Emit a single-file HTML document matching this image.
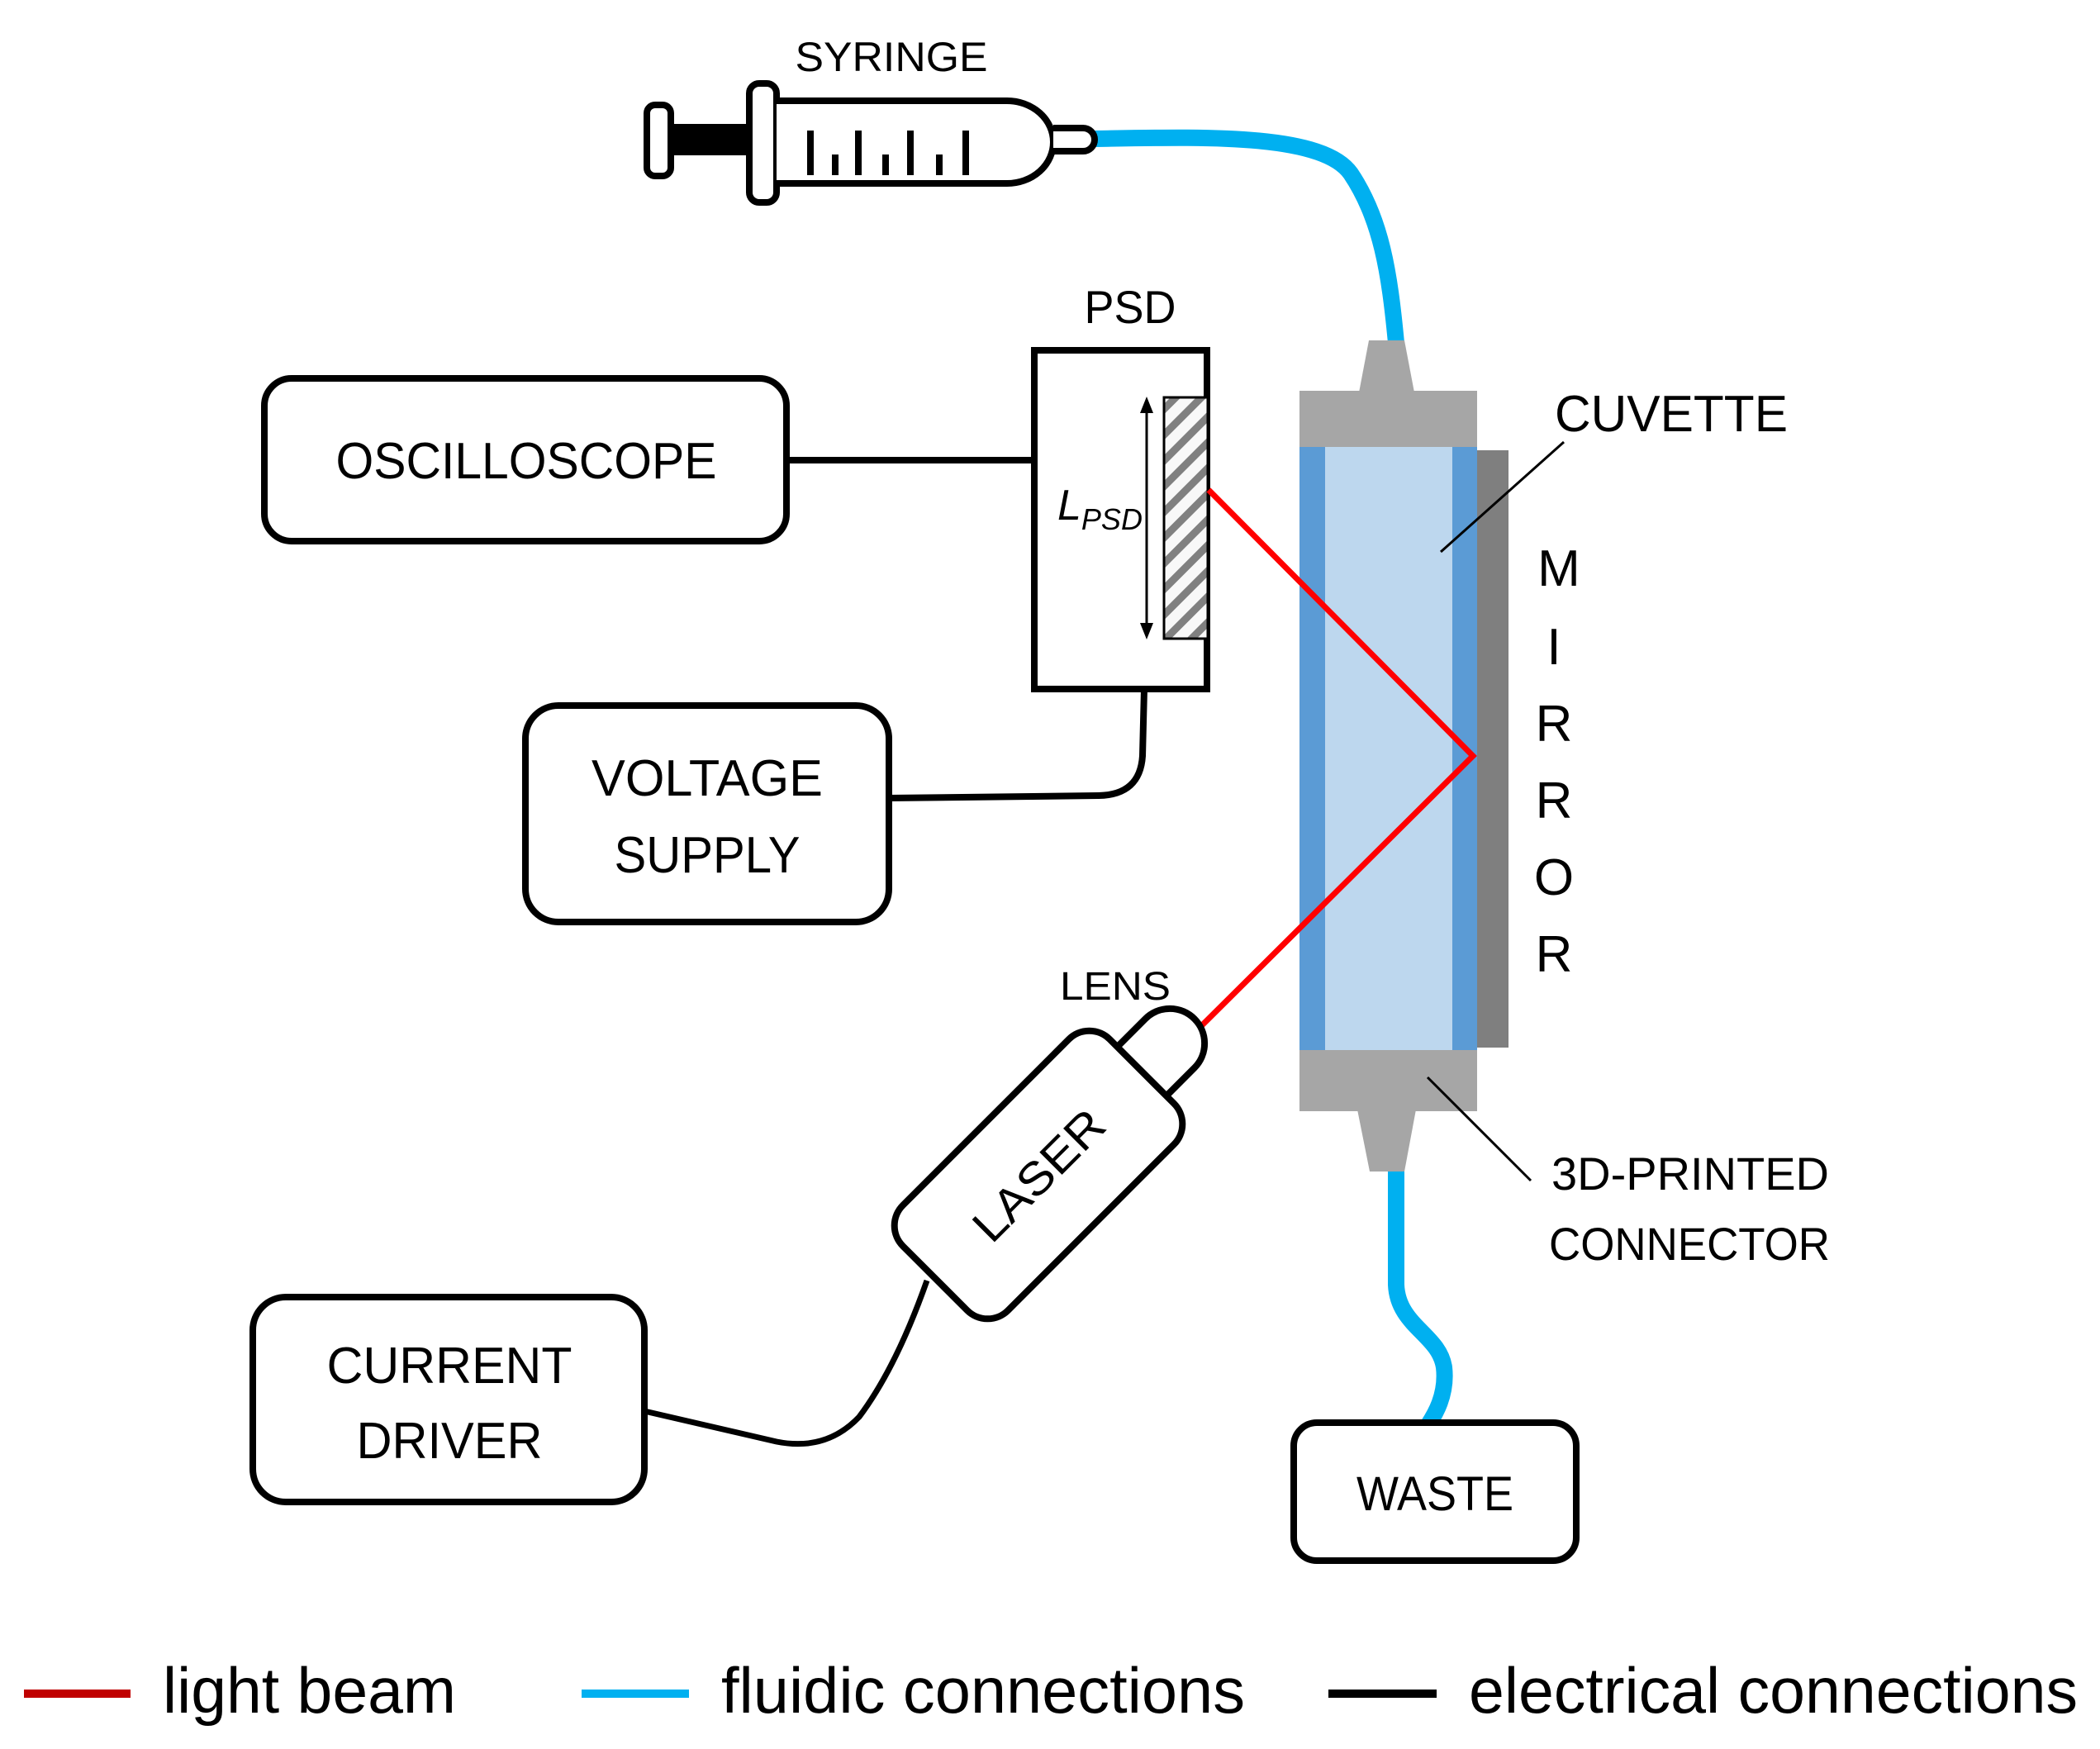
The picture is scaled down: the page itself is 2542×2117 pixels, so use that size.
<!DOCTYPE html>
<html><head><meta charset="utf-8"><style>html,body{margin:0;padding:0;background:#fff}svg{display:block}text{font-family:"Liberation Sans",sans-serif;fill:#000}</style></head>
<body>
<svg width="2542" height="2117" viewBox="0 0 2542 2117" xmlns="http://www.w3.org/2000/svg">
<defs>
<pattern id="hatch" width="22" height="22" patternUnits="userSpaceOnUse" patternTransform="rotate(-45)">
<rect width="22" height="22" fill="#f8f8f8"/><rect width="22" height="9" fill="#808080"/>
</pattern>
</defs>
<rect width="2542" height="2117" fill="#fff"/>

<!-- fluidic tubes -->
<path d="M1320,168 C1450,166 1600,160 1635,210 C1672,265 1682,330 1690,415" fill="none" stroke="#00b0f0" stroke-width="20"/>
<path d="M1690,1415 L1690,1555 C1692,1605 1742,1615 1748,1655 C1752,1690 1735,1715 1728,1726" fill="none" stroke="#00b0f0" stroke-width="20"/>

<!-- syringe -->
<text x="1079" y="86" font-size="50" text-anchor="middle" textLength="233" lengthAdjust="spacingAndGlyphs">SYRINGE</text>
<rect x="812" y="150" width="95" height="38" fill="#000"/>
<rect x="783" y="127" width="29" height="86" rx="10" fill="#fff" stroke="#000" stroke-width="8"/>
<rect x="907" y="101" width="33" height="144" rx="12" fill="#fff" stroke="#000" stroke-width="8"/>
<path d="M940,122 H1219 A56,50 0 0 1 1219,222 H940" fill="#fff" stroke="#000" stroke-width="8"/>
<path d="M1275,155 H1311 A14,14 0 0 1 1311,183 H1275" fill="#fff" stroke="#000" stroke-width="8"/>
<g stroke="#000" stroke-width="8">
<line x1="981" y1="158" x2="981" y2="212"/><line x1="1011" y1="187" x2="1011" y2="212"/>
<line x1="1039" y1="158" x2="1039" y2="212"/><line x1="1072" y1="187" x2="1072" y2="212"/>
<line x1="1102" y1="158" x2="1102" y2="212"/><line x1="1137" y1="187" x2="1137" y2="212"/>
<line x1="1169" y1="158" x2="1169" y2="212"/>
</g>

<!-- cuvette -->
<polygon points="1645,475 1657,412 1700,412 1712,475" fill="#a6a6a6"/>
<rect x="1573" y="473" width="215" height="68" fill="#a6a6a6"/>
<rect x="1573" y="541" width="215" height="730" fill="#5b9bd5"/>
<rect x="1604" y="541" width="154" height="730" fill="#bdd7ee"/>
<rect x="1788" y="545" width="38" height="723" fill="#7f7f7f"/>
<rect x="1573" y="1271" width="215" height="74" fill="#a6a6a6"/>
<polygon points="1643,1343 1714,1343 1700,1418 1658,1418" fill="#a6a6a6"/>

<!-- PSD -->
<text x="1368" y="391" font-size="56" text-anchor="middle" textLength="111" lengthAdjust="spacingAndGlyphs">PSD</text>
<rect x="1252" y="424" width="209" height="410" fill="#fff" stroke="#000" stroke-width="8"/>
<rect x="1409" y="481" width="53" height="292" fill="url(#hatch)" stroke="#000" stroke-width="3"/>
<line x1="1388" y1="495" x2="1388" y2="760" stroke="#000" stroke-width="3"/>
<polygon points="1388,480 1380,500 1396,500"/><polygon points="1388,774 1380,754 1396,754"/>
<text x="1280" y="629" font-size="52" font-style="italic">L<tspan font-size="36" dy="12">PSD</tspan></text>

<!-- beam -->
<polyline points="1463,593 1783,915 1454,1242" fill="none" stroke="#ff0000" stroke-width="7"/>

<!-- oscilloscope -->
<rect x="320" y="458" width="632" height="197" rx="33" fill="#fff" stroke="#000" stroke-width="8"/>
<text x="637" y="579" font-size="62" text-anchor="middle" textLength="461" lengthAdjust="spacingAndGlyphs">OSCILLOSCOPE</text>
<line x1="952" y1="557" x2="1252" y2="557" stroke="#000" stroke-width="8"/>

<!-- voltage supply -->
<rect x="636" y="854" width="440" height="262" rx="40" fill="#fff" stroke="#000" stroke-width="8"/>
<text x="856" y="963" font-size="62" text-anchor="middle" textLength="280" lengthAdjust="spacingAndGlyphs">VOLTAGE</text>
<text x="856" y="1056" font-size="62" text-anchor="middle" textLength="225" lengthAdjust="spacingAndGlyphs">SUPPLY</text>
<path d="M1385,834 L1383,915 Q1380,962 1330,963 L1076,966" fill="none" stroke="#000" stroke-width="8"/>

<!-- current driver -->
<rect x="306" y="1570" width="474" height="248" rx="40" fill="#fff" stroke="#000" stroke-width="8"/>
<text x="544" y="1674" font-size="62" text-anchor="middle" textLength="297" lengthAdjust="spacingAndGlyphs">CURRENT</text>
<text x="544" y="1765" font-size="62" text-anchor="middle" textLength="225" lengthAdjust="spacingAndGlyphs">DRIVER</text>
<path d="M780,1708 L940,1745 Q1000,1757 1040,1715 Q1085,1655 1122,1550" fill="none" stroke="#000" stroke-width="7"/>

<!-- laser -->
<g transform="translate(1257,1422) rotate(-45)">
<path d="M170,-42 L225,-42 A42,42 0 0 1 225,42 L170,42" fill="#fff" stroke="#000" stroke-width="8"/>
<rect x="-177" y="-90" width="354" height="180" rx="35" fill="#fff" stroke="#000" stroke-width="8"/>
<text x="0" y="20" font-size="56" text-anchor="middle" textLength="200" lengthAdjust="spacingAndGlyphs">LASER</text>
</g>
<text x="1350" y="1210" font-size="48" text-anchor="middle" textLength="134" lengthAdjust="spacingAndGlyphs">LENS</text>

<!-- labels -->
<text x="1882" y="522" font-size="62" textLength="282" lengthAdjust="spacingAndGlyphs">CUVETTE</text>
<line x1="1893" y1="535" x2="1744" y2="668" stroke="#000" stroke-width="3"/>
<g font-size="62">
<text x="1887" y="709" text-anchor="middle">M</text>
<text x="1881" y="804" text-anchor="middle">I</text>
<text x="1881" y="897" text-anchor="middle">R</text>
<text x="1881" y="990" text-anchor="middle">R</text>
<text x="1881" y="1083" text-anchor="middle">O</text>
<text x="1881" y="1176" text-anchor="middle">R</text>
</g>
<text x="1878" y="1440" font-size="56" textLength="336" lengthAdjust="spacingAndGlyphs">3D-PRINTED</text>
<text x="1875" y="1525" font-size="56" textLength="340" lengthAdjust="spacingAndGlyphs">CONNECTOR</text>
<line x1="1853" y1="1429" x2="1728" y2="1304" stroke="#000" stroke-width="3"/>

<!-- waste -->
<rect x="1566" y="1722" width="342" height="167" rx="28" fill="#fff" stroke="#000" stroke-width="8"/>
<text x="1737" y="1828" font-size="58" text-anchor="middle" textLength="190" lengthAdjust="spacingAndGlyphs">WASTE</text>

<!-- legend -->
<rect x="29" y="2045" width="129" height="10" fill="#c00000"/>
<rect x="704" y="2045" width="130" height="10" fill="#00b0f0"/>
<rect x="1608" y="2045" width="131" height="10" fill="#000"/>
<text x="197" y="2073" font-size="78" textLength="355" lengthAdjust="spacingAndGlyphs">light beam</text>
<text x="873" y="2073" font-size="78" textLength="634" lengthAdjust="spacingAndGlyphs">fluidic connections</text>
<text x="1778" y="2073" font-size="78" textLength="737" lengthAdjust="spacingAndGlyphs">electrical connections</text>
</svg>
</body></html>
